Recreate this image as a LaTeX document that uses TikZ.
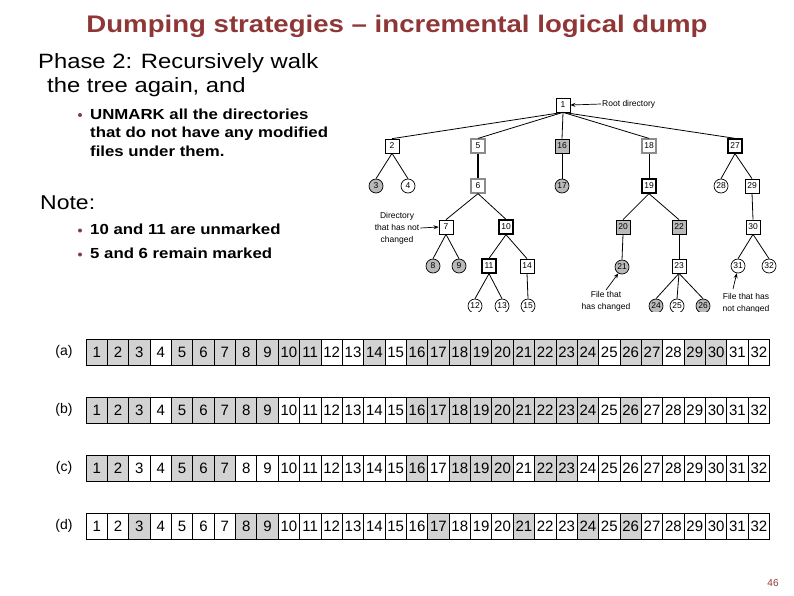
\documentclass[tikz,border=0pt]{standalone}
\usepackage{fontspec}
\setmainfont{Liberation Sans}
\newfontfamily\slidefont[FakeStretch=1.15]{Liberation Sans}
\usetikzlibrary{arrows.meta}
\definecolor{titlered}{RGB}{143,55,55}
\definecolor{bulletred}{RGB}{130,60,60}
\definecolor{nodegray}{RGB}{185,185,185}
\definecolor{cellgray}{RGB}{210,210,210}
\definecolor{rimgray}{RGB}{140,140,140}
\tikzset{
    dir/.style = {
        rectangle, draw, fill=white,
        line width=0.7pt,
        minimum size=14pt, inner sep=0pt,
        font=\fontsize{8.5}{8.5}\selectfont
    },
    dirbold/.style = {dir, line width=1.3pt},
    dirgray/.style = {dir, fill=nodegray},
    dirrim/.style = {dir, draw=rimgray, line width=1.2pt},
    file/.style = {
        circle, draw, fill=white,
        line width=0.7pt,
        minimum size=14pt, inner sep=0pt,
        font=\fontsize{8.5}{8.5}\selectfont
    },
    filegray/.style = {file, fill=nodegray},
    link/.style = {line width=0.8pt},
    pointer/.style = {
        -{Stealth[length=5pt,width=4pt]}, line width=0.7pt
    },
    note/.style = {
        font=\fontsize{8.5}{12}\selectfont,
        align=center, inner sep=1pt
    },
    cell/.style = {
        rectangle, draw, line width=0.8pt,
        minimum width=21.36pt, minimum height=26pt,
        inner sep=0pt,
        font=\fontsize{15}{15}\selectfont
    },
    rowlabel/.style = {font=\fontsize{14}{14}\selectfont},
    slidetext/.style = {anchor=base west, inner sep=0pt},
    dot/.style = {circle, fill=bulletred, minimum size=4pt, inner sep=0pt}
}

\begin{document}
\begin{tikzpicture}[x=1pt, y=-1pt]
\useasboundingbox (0,0) rectangle (794,595);

% title and text
\node (title) [anchor=base, text=titlered, font=\slidefont\bfseries\fontsize{24}{24}\selectfont] at (397,32) {Dumping strategies – incremental logical dump};
\node (phase1) [slidetext, font=\slidefont\fontsize{20.7}{24}\selectfont] at (38,68.5) {Phase 2: Recursively walk};
\node (phase2) [slidetext, font=\slidefont\fontsize{20.7}{24}\selectfont] at (47,92.5) {the tree again, and};
\node (dot1) [dot] at (80,115) {};
\node (unmark1) [slidetext, font=\slidefont\bfseries\fontsize{14.6}{15}\selectfont] at (90,119) {UNMARK all the directories};
\node (unmark2) [slidetext, font=\slidefont\bfseries\fontsize{14.6}{15}\selectfont] at (90,137.5) {that do not have any modified};
\node (unmark3) [slidetext, font=\slidefont\bfseries\fontsize{14.6}{15}\selectfont] at (90,156) {files under them.};
\node (note) [slidetext, font=\slidefont\fontsize{20}{20}\selectfont] at (40,209) {Note:};
\node (dot2) [dot] at (80,230.5) {};
\node (note1) [slidetext, font=\slidefont\bfseries\fontsize{14.6}{15}\selectfont] at (90,234) {10 and 11 are unmarked};
\node (dot3) [dot] at (80,254.5) {};
\node (note2) [slidetext, font=\slidefont\bfseries\fontsize{14.6}{15}\selectfont] at (90,258) {5 and 6 remain marked};

% directory tree
\begin{scope}
\clip (360,88) rectangle (794,311);
\node (n1) [dir] at (563,105) {1};
\node (n2) [dir] at (392,146) {2};
\node (n5) [dirrim] at (478,146) {5};
\node (n16) [dirgray] at (562,146) {16};
\node (n18) [dirrim] at (649,146) {18};
\node (n27) [dirbold] at (735,146) {27};
\node (n3) [filegray] at (376,186) {3};
\node (n4) [file] at (408,186) {4};
\node (n6) [dirrim] at (478,186) {6};
\node (n17) [filegray] at (562,186) {17};
\node (n19) [dirbold] at (649,186) {19};
\node (n28) [file] at (721,186) {28};
\node (n29) [dir] at (752,186) {29};
\node (n7) [dir] at (446,227) {7};
\node (n10) [dirbold] at (506,227) {10};
\node (n20) [dirgray] at (623,227) {20};
\node (n22) [dirgray] at (679,227) {22};
\node (n30) [dir] at (753,227) {30};
\node (n8) [filegray] at (433,266) {8};
\node (n9) [filegray] at (459,266) {9};
\node (n11) [dirbold] at (489,266) {11};
\node (n14) [dir] at (527,266) {14};
\node (n21) [filegray] at (622,267) {21};
\node (n23) [dir] at (679,266) {23};
\node (n31) [file] at (738,266) {31};
\node (n32) [file] at (769,266) {32};
\node (n12) [file] at (475,306) {12};
\node (n13) [file] at (502,306) {13};
\node (n15) [file] at (528,306) {15};
\node (n24) [filegray] at (656,306) {24};
\node (n25) [file] at (677,306) {25};
\node (n26) [filegray] at (703,306) {26};

\draw [link] (n1.south) -- (n2.north);
\draw [link] (n1.south) -- (n5.north);
\draw [link] (n1.south) -- (n16.north);
\draw [link] (n1.south) -- (n18.north);
\draw [link] (n1.south) -- (n27.north);
\draw [link] (n2.south) -- (n3.north);
\draw [link] (n2.south) -- (n4.north);
\draw [link, line width=1.6pt] (n5.south) -- (n6.north);
\draw [link] (n16.south) -- (n17.north);
\draw [link] (n18.south) -- (n19.north);
\draw [link] (n27.south) -- (n28.north);
\draw [link] (n27.south) -- (n29.north);
\draw [link] (n6.south) -- (n7.north);
\draw [link] (n6.south) -- (n10.north);
\draw [link] (n19.south) -- (n20.north);
\draw [link] (n19.south) -- (n22.north);
\draw [link] (n29.south) -- (n30.north);
\draw [link] (n7.south) -- (n8.north);
\draw [link] (n7.south) -- (n9.north);
\draw [link] (n10.south) -- (n11.north);
\draw [link] (n10.south) -- (n14.north);
\draw [link] (n20.south) -- (n21.north);
\draw [link] (n22.south) -- (n23.north);
\draw [link] (n30.south) -- (n31.north);
\draw [link] (n30.south) -- (n32.north);
\draw [link] (n11.south) -- (n12.north);
\draw [link] (n11.south) -- (n13.north);
\draw [link] (n14.south) -- (n15.north);
\draw [link] (n23.south) -- (n24.north);
\draw [link] (n23.south) -- (n25.north);
\draw [link] (n23.south) -- (n26.north);

% callouts
\node (rootnote) [note, anchor=west] at (601,104) {Root directory};
\node (dirnote) [note] at (397,228) {Directory\\that has not\\changed};
\node (chgnote) [note, anchor=north] at (606,290) {File that\\has changed};
\node (samenote) [note, anchor=north] at (746,292) {File that has\\not changed};
\coordinate (sametail) at (733,289);
\draw [pointer] (rootnote.west) -- (n1.east);
\draw [pointer] (dirnote.east) -- (n7.west);
\draw [pointer] (chgnote.north) -- (n21.240);
\draw [pointer] (sametail) -- (n31.260);
\end{scope}

% bitmaps (a)-(d)
\foreach \r/\yy/\marks in {
    a/352/{1,2,3,5,6,7,8,9,10,11,14,16,17,18,19,20,21,22,23,24,26,27,29,30},
    b/410/{1,2,3,5,6,7,8,9,16,17,18,19,20,21,22,23,24,26},
    c/468/{1,2,5,6,7,16,18,19,20,22,23},
    d/526/{3,8,9,17,21,24,26}} {
  \node (lab-\r) [rowlabel] at (64,\yy) {(\r)};
  \foreach \i in \marks
    \fill [cellgray] ({86+21.36*(\i-1)},\yy-13) rectangle +(21.36,26);
  \foreach \i in {1,...,32}
    \node (\r-\i) [cell] at ({86+21.36*(\i-0.5)},\yy) {\i};
}

\node (pagenum) [text=titlered, font=\fontsize{10}{10}\selectfont] at (773,583) {46};

\end{tikzpicture}
\end{document}
